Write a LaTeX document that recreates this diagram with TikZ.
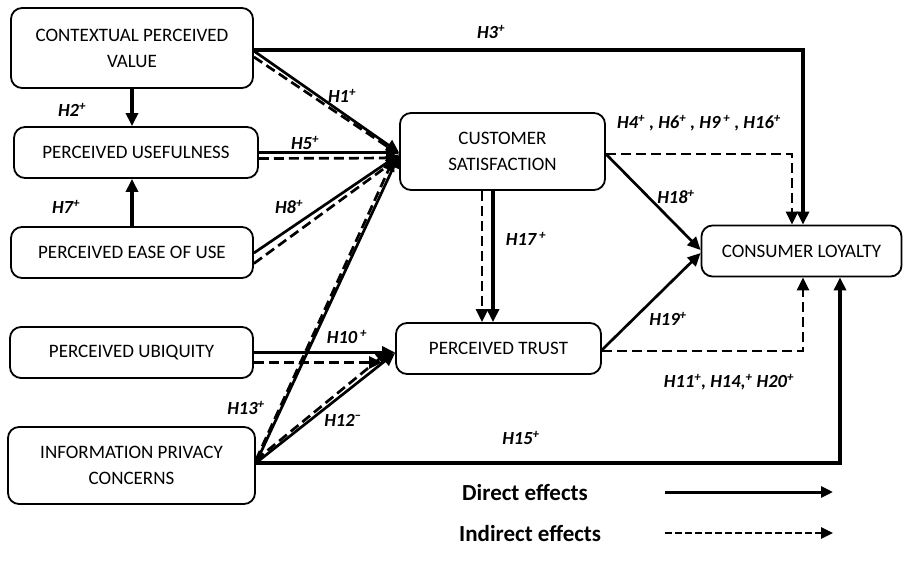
\documentclass[tikz,border=0pt]{standalone}
\usepackage{fontspec}
\setmainfont{Carlito}
\usetikzlibrary{arrows.meta}
\newcommand\hsup[1]{\textsuperscript{#1}}
\begin{document}
\begin{tikzpicture}[x=1pt,y=-1pt,
  box/.style={draw, line width=1.8pt, rounded corners=11pt, align=center, inner sep=0pt,
              font=\fontsize{19}{26}\selectfont},
  tip/.style={-{Triangle[length=13pt,width=12pt]}},
  dir/.style={tip, line width=3.2pt},
  dirt/.style={tip, line width=2.7pt},
  ind/.style={tip, line width=2.7pt, dash pattern=on 10pt off 5pt},
  lab/.style={font=\fontsize{18.5}{20}\selectfont\bfseries\itshape, inner sep=0pt},
  leg/.style={font=\fontsize{23}{24}\selectfont\bfseries, inner sep=0pt}]
\useasboundingbox (0,0) rectangle (904,570);

% boxes
\node[box, minimum width=242pt, minimum height=80pt] (cpv) at (132,48) {CONTEXTUAL PERCEIVED\\VALUE};
\node[box, minimum width=244pt, minimum height=51pt] (pu) at (136,152.5) {PERCEIVED USEFULNESS};
\node[box, minimum width=242pt, minimum height=51pt] (peou) at (132,252.5) {PERCEIVED EASE OF USE};
\node[box, minimum width=243pt, minimum height=51pt] (pub) at (131.5,352.5) {PERCEIVED UBIQUITY};
\node[box, minimum width=247pt, minimum height=77pt] (ipc) at (131.5,465.5) {INFORMATION PRIVACY\\CONCERNS};
\node[box, minimum width=205pt, minimum height=77pt] (cs) at (502.5,151.5) {CUSTOMER\\SATISFACTION};
\node[box, minimum width=205pt, minimum height=51pt] (pt) at (498.5,348.5) {PERCEIVED TRUST};
\node[box, minimum width=200pt, minimum height=51pt] (cl) at (801.5,251) {CONSUMER LOYALTY};

% helper coordinates
\coordinate (h10d) at (382,362.5);
\coordinate (h13d) at (394,158);
\coordinate (h12d) at (389,351);

% H2, H7
\draw[dir] (cpv.south) -- (cpv.south |- pu.north);
\draw[dir] (peou.north) -- (peou.north |- pu.south);

% H3
\draw[dir] ([yshift=-2pt]cpv.east) -| ([xshift=1.5pt]cl.north);

% H1
\draw[ind] ([yshift=-9pt]cpv.east) -- ([yshift=-3pt]cs.west);
\draw[dirt] ([yshift=-3pt]cpv.east) -- ([yshift=-1pt]cs.west);

% H5
\draw[ind] ([yshift=-6pt]pu.east) -- ([yshift=-6.5pt]cs.west);
\draw[dir] (pu.east) -- ([yshift=-1pt]cs.west);

% H8
\draw[ind] ([yshift=-11pt]peou.east) -- ([yshift=-6pt]cs.west);
\draw[dirt] ([yshift=-0.5pt]peou.east) -- ([yshift=-3pt]cs.west);

% H13
\draw[ind] ([yshift=5.5pt]ipc.east) -- (h13d);
\draw[dirt] ([yshift=2.5pt]ipc.east) -- ([yshift=-3.5pt]cs.west);

% H10
\draw[ind] ([yshift=-10pt]pub.east) -- (h10d);
\draw[dir] (pub.east) -- ([yshift=-4pt]pt.west);

% H12
\draw[ind] ([yshift=5.5pt]ipc.east) -- (h12d);
\draw[dirt] ([yshift=2.5pt]ipc.east) -- ([yshift=-4.5pt]pt.west);

% H17
\draw[ind] ([xshift=-20.5pt]cs.south) -- ([xshift=-16.5pt]pt.north);
\draw[dir] ([xshift=-9.5pt]cs.south) -- ([xshift=-5.5pt]pt.north);

% H18, H4...
\draw[dirt] ([yshift=-2.5pt]cs.east) -- ([yshift=1pt]cl.west);
\draw[ind] ([yshift=-2.5pt]cs.east) -| ([xshift=-9.5pt]cl.north);

% H19, H11...
\draw[dirt] ([yshift=-1.5pt]pt.east) -- ([yshift=-2pt]cl.west);
\draw[ind] ([yshift=-2.5pt]pt.east) -| ([xshift=1.5pt]cl.south);

% H15
\draw[dir] ([yshift=2.5pt]ipc.east) -| ([xshift=38.5pt]cl.south);

% labels
\node[lab] (l2) at (72,110) {H2\hsup{+}};
\node[lab] (l7) at (66,207) {H7\hsup{+}};
\node[lab] (l1) at (342,96) {H1\hsup{+}};
\node[lab] (l5) at (305,143) {H5\hsup{+}};
\node[lab] (l8) at (289,207) {H8\hsup{+}};
\node[lab] (l3) at (491,32) {H3\hsup{+}};
\node[lab] (l4) at (699,123) {H4\hsup{+} , H6\hsup{+} , H9\hsup{ +} , H16\hsup{+}};
\node[lab] (l18) at (676,197) {H18\hsup{+}};
\node[lab] (l17) at (526,239) {H17\hsup{ +}};
\node[lab] (l19) at (668,319) {H19\hsup{+}};
\node[lab] (l10) at (347,337) {H10\hsup{ +}};
\node[lab] (l13) at (246,408) {H13\hsup{+}};
\node[lab] (l12) at (343,420) {H12\hsup{\textendash}};
\node[lab] (l11) at (729,382) {H11\hsup{+}, H14,\hsup{+} H20\hsup{+}};
\node[lab] (l15) at (521,438) {H15\hsup{+}};

% legend
\node[leg, anchor=west] (ld) at (462,492) {Direct effects};
\node[leg, anchor=west] (li) at (459,533) {Indirect effects};
\coordinate (lda) at (665,492);
\coordinate (ldb) at (833,492);
\coordinate (lia) at (665,533);
\coordinate (lib) at (833,533);
\draw[line width=3pt, -{Triangle[length=12pt,width=11pt]}] (lda) -- (ldb);
\draw[line width=2.5pt, dash pattern=on 6.5pt off 3.5pt, -{Triangle[length=12pt,width=11pt]}] (lia) -- (lib);
\end{tikzpicture}
\end{document}
